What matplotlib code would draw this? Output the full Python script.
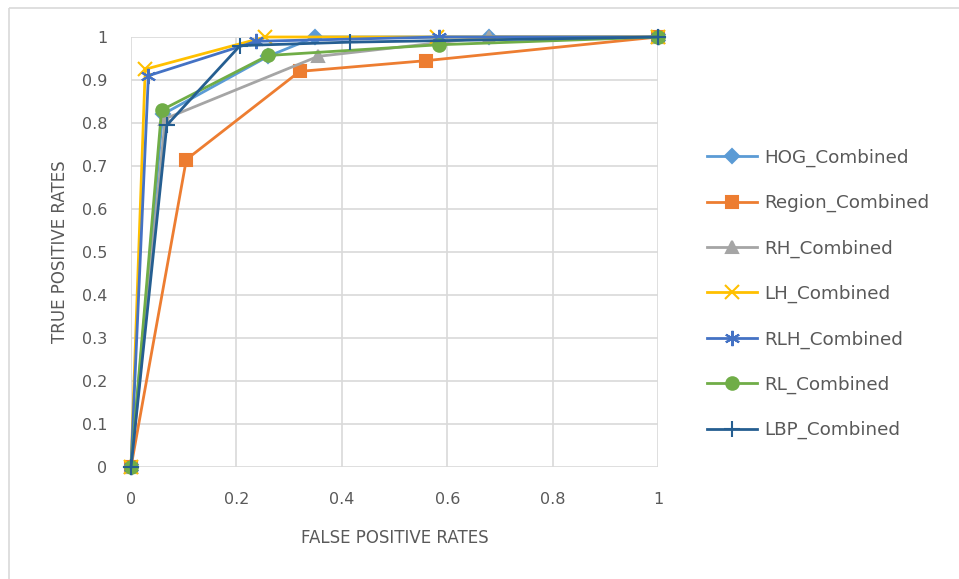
import matplotlib
matplotlib.use("Agg")
import matplotlib.pyplot as plt
from matplotlib.lines import Line2D

# ROC points (false positive rate, true positive rate) per feature combination
hog_fpr = [0, 0.06, 0.26, 0.35, 0.68, 1]
hog_tpr = [0, 0.82, 0.955, 1.0, 1.0, 1.0]

region_fpr = [0, 0.105, 0.32, 0.56, 1]
region_tpr = [0, 0.715, 0.92, 0.945, 1.0]

rh_fpr = [0, 0.065, 0.355, 0.68, 1]
rh_tpr = [0, 0.81, 0.955, 1.0, 1.0]

lh_fpr = [0, 0.027, 0.255, 0.58, 1]
lh_tpr = [0, 0.925, 1.0, 1.0, 1.0]

rlh_fpr = [0, 0.033, 0.238, 0.585, 1]
rlh_tpr = [0, 0.91, 0.99, 1.0, 1.0]

rl_fpr = [0, 0.058, 0.26, 0.585, 1]
rl_tpr = [0, 0.83, 0.957, 0.982, 1.0]

lbp_fpr = [0, 0.068, 0.207, 0.415, 1]
lbp_tpr = [0, 0.795, 0.98, 0.988, 1.0]

x_ticks = [0, 0.2, 0.4, 0.6, 0.8, 1]
x_tick_labels = ["0", "0.2", "0.4", "0.6", "0.8", "1"]
y_ticks = [0, 0.1, 0.2, 0.3, 0.4, 0.5, 0.6, 0.7, 0.8, 0.9, 1]
y_tick_labels = ["0", "0.1", "0.2", "0.3", "0.4", "0.5", "0.6", "0.7", "0.8", "0.9", "1"]

series = [
    ("HOG_Combined", hog_fpr, hog_tpr, "#5B9BD5", "D", 7),
    ("Region_Combined", region_fpr, region_tpr, "#ED7D31", "s", 9),
    ("RH_Combined", rh_fpr, rh_tpr, "#A5A5A5", "^", 9),
    ("LH_Combined", lh_fpr, lh_tpr, "#FFC000", "x", 10),
    ("RLH_Combined", rlh_fpr, rlh_tpr, "#4472C4", (6, 2, 0), 11),
    ("RL_Combined", rl_fpr, rl_tpr, "#70AD47", "o", 9),
    ("LBP_Combined", lbp_fpr, lbp_tpr, "#255E91", "+", 12),
]

text_color = "#595959"
plt.rcParams["font.family"] = ["DejaVu Sans"]

fig = plt.figure(figsize=(9.59, 5.79), dpi=100)

# light chart-area frame along the top and left edges
frame_x = 8.5 / 959
frame_y = 1 - 7.5 / 579
fig.add_artist(Line2D([frame_x, 1.0], [frame_y, frame_y], transform=fig.transFigure,
                      color="#D9D9D9", linewidth=1.2, solid_capstyle="butt"))
fig.add_artist(Line2D([frame_x, frame_x], [0.0, frame_y], transform=fig.transFigure,
                      color="#D9D9D9", linewidth=1.2, solid_capstyle="butt"))

ax = fig.add_axes([131 / 959, 1 - 467 / 579, 527 / 959, 430 / 579])

for label, fpr, tpr, color, marker, ms in series:
    ax.plot(fpr, tpr, color=color, linewidth=2.0, marker=marker,
            markersize=ms, markeredgewidth=1.5, markerfacecolor=color,
            markeredgecolor=color, label=label, clip_on=False, zorder=3)

ax.set_xlim(0, 1)
ax.set_ylim(0, 1)
ax.set_xticks(x_ticks)
ax.set_xticklabels(x_tick_labels)
ax.set_yticks(y_ticks)
ax.set_yticklabels(y_tick_labels)
ax.grid(True, color="#D9D9D9", linewidth=1.2)
ax.set_axisbelow(True)
for s in ax.spines.values():
    s.set_visible(False)
ax.tick_params(axis="both", length=0, labelsize=11.5, labelcolor=text_color)
ax.tick_params(axis="y", pad=17)
ax.tick_params(axis="x", pad=18)

ax.set_xlabel("FALSE POSITIVE RATES", fontsize=12, color=text_color, labelpad=16)
ax.set_ylabel("TRUE POSITIVE RATES", fontsize=12, color=text_color, labelpad=9)

fig.legend(loc="center left", bbox_to_anchor=(707 / 959, 1 - 294 / 579),
           frameon=False, fontsize=13.2, labelcolor=text_color,
           handlelength=2.75, handletextpad=0.35, labelspacing=1.48,
           borderpad=0, borderaxespad=0)

fig.savefig("out.png", dpi=100)
